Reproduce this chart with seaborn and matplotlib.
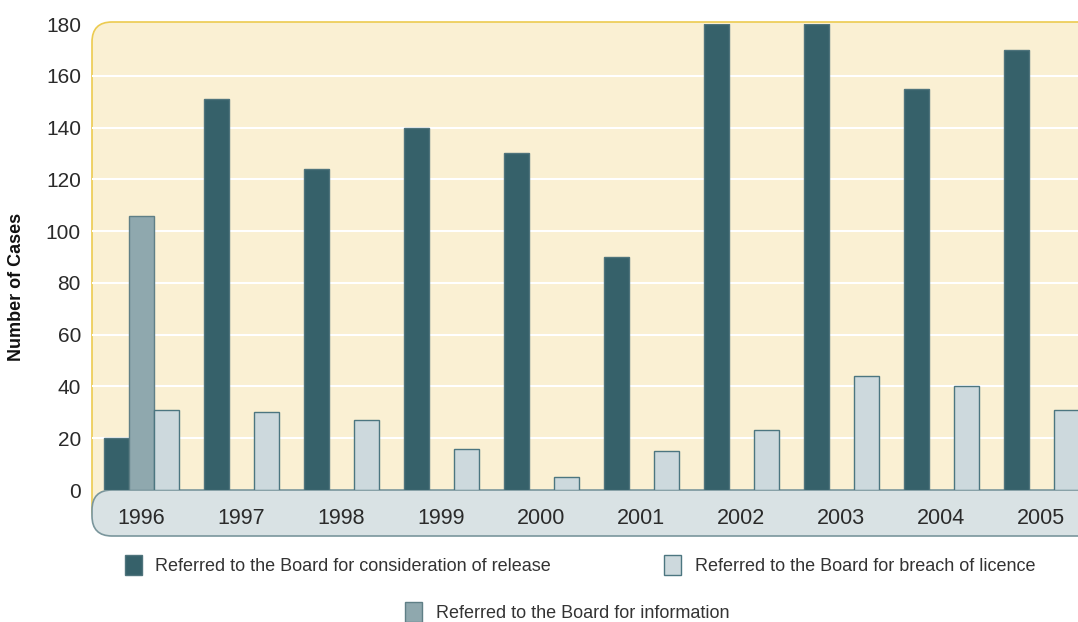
import numpy as np
import pandas as pd
import matplotlib
matplotlib.use("Agg")
import matplotlib.pyplot as plt
import seaborn as sns
from matplotlib.patches import FancyBboxPatch, Patch
from matplotlib.transforms import IdentityTransform

years = ["1996", "1997", "1998", "1999", "2000", "2001", "2002", "2003", "2004", "2005"]
release = [20, 151, 124, 140, 130, 90, 180, 180, 155, 170]
information = [106, np.nan, np.nan, np.nan, np.nan, np.nan, np.nan, np.nan, np.nan, np.nan]
breach = [31, 30, 27, 16, 5, 15, 23, 44, 40, 31]
series_names = ["Referred to the Board for consideration of release",
                "Referred to the Board for information",
                "Referred to the Board for breach of licence"]
y_ticks = [0, 20, 40, 60, 80, 100, 120, 140, 160, 180]

colors = ["#36616a", "#8fa8ae", "#cdd9dd"]
edges = ["#4f747c", "#5f7f86", "#4c7680"]

rows = []
for name, vals in zip(series_names, [release, information, breach]):
    for y, v in zip(years, vals):
        rows.append({"Year": y, "Series": name, "Cases": v})
df = pd.DataFrame(rows)

sns.set_theme(style="white")
plt.rcParams["font.family"] = ["Liberation Sans", "DejaVu Sans"]

W, H = 1078, 622
fig = plt.figure(figsize=(W / 100, H / 100), dpi=100)
ax = fig.add_axes([92 / W, 1 - 490 / H, (1100 - 92) / W, (490 - 24) / H])
ax.set_facecolor("none")

sns.barplot(data=df, x="Year", y="Cases", hue="Series", hue_order=series_names,
            palette=colors, width=0.75, gap=0, ax=ax, saturation=1, legend=True,
            linewidth=1, edgecolor="#4f747c", zorder=3)
for i, cont in enumerate(ax.containers):
    for bar in cont:
        bar.set_edgecolor(edges[i])
        bar.set_linewidth(1)

ax.get_legend().remove()

ax.set_ylim(0, 180)
ax.set_xlim(-0.49, 9.59)
ax.set_yticks(y_ticks)
ax.set_yticklabels([str(t) for t in y_ticks], fontsize=15, color="#2a2a2a")
for lab in ax.get_yticklabels():
    lab.set_va("center_baseline")
ax.tick_params(axis="y", length=0, pad=8)
ax.tick_params(axis="x", length=0, pad=13, labelsize=15.5, labelcolor="#2a2a2a")
for t in y_ticks[1:-1]:
    ax.axhline(t, color="white", lw=1.5, zorder=1)
for s in ax.spines.values():
    s.set_visible(False)
ax.set_xlabel("")
ax.set_ylabel("Number of Cases", fontsize=13, fontweight="bold", labelpad=14,
              color="#111111")
ax.yaxis.set_label_coords(-0.066, (490 - 287) / (490 - 24))

# background panels (pixel coords, y flipped)
def px_box(x0, y0, x1, y1, fc, ec, r, z):
    p = FancyBboxPatch((x0, H - y1), x1 - x0, y1 - y0,
                       boxstyle=f"round,pad=0,rounding_size={r}",
                       transform=IdentityTransform(), facecolor=fc, edgecolor=ec,
                       linewidth=1.2, zorder=z)
    fig.add_artist(p)

px_box(92, 22, 1120, 530, "#faf0d3", "#eccb50", 20, -2)
px_box(92, 490, 1120, 536, "#d9e2e4", "#7a969c", 20, -1)

def mk(c, e):
    return Patch(facecolor=c, edgecolor=e, linewidth=1)

leg1 = fig.legend([mk(colors[0], edges[0]), mk(colors[2], edges[2])],
                  [series_names[0], series_names[2]], ncol=2,
                  loc="center", bbox_to_anchor=(580 / W, 1 - 565 / H),
                  frameon=False, fontsize=13, columnspacing=6.25,
                  handlelength=0.95, handleheight=1.3, handletextpad=0.75)
for t in leg1.get_texts():
    t.set_color("#333333")
leg2 = fig.legend([mk(colors[1], edges[1])], [series_names[1]],
                  loc="center", bbox_to_anchor=(567 / W, 1 - 612 / H),
                  frameon=False, fontsize=13,
                  handlelength=0.95, handleheight=1.3, handletextpad=0.75)
for t in leg2.get_texts():
    t.set_color("#333333")

fig.savefig("out.png", dpi=100)
